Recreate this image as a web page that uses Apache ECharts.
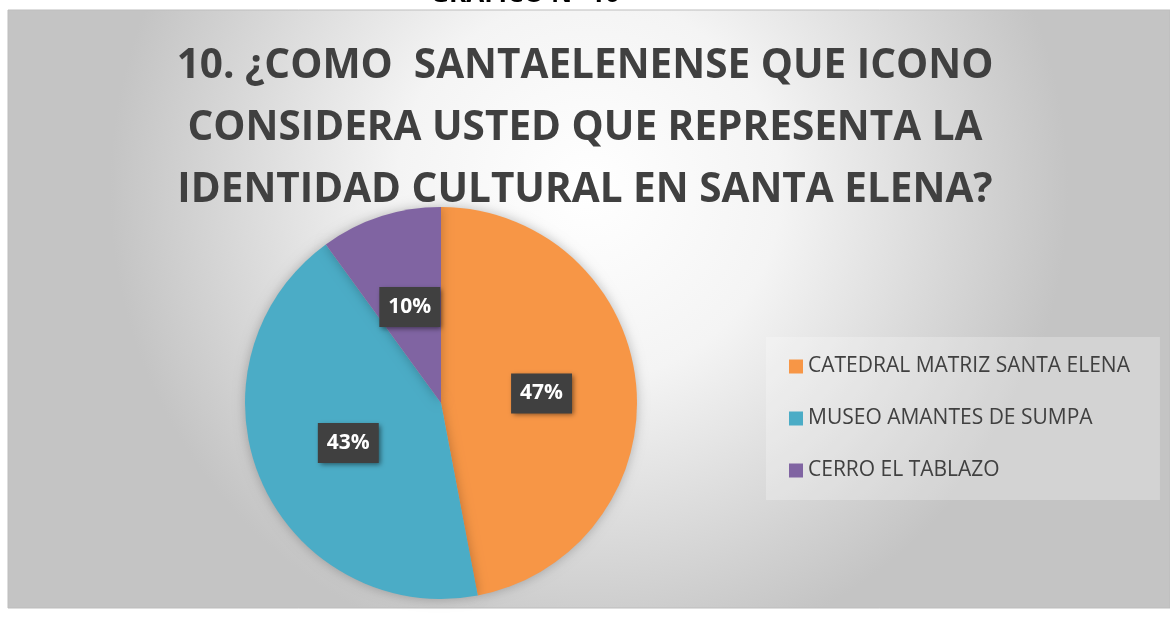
<!DOCTYPE html>
<html>
<head>
<meta charset="utf-8">
<script src="https://cdn.jsdelivr.net/npm/echarts@6/dist/echarts.min.js"></script>
<style>
html,body{margin:0;padding:0;background:#fff;}
#chart{width:1170px;height:620px;}
</style>
</head>
<body>
<div id="chart"></div>
<script>
const categories = ['CATEDRAL MATRIZ SANTA ELENA', 'MUSEO AMANTES DE SUMPA', 'CERRO EL TABLAZO'];
const values = [47, 43, 10];
const colors = ['#F79646', '#4BACC6', '#8064A2'];
const titleText = '10. ¿COMO  SANTAELENENSE QUE ICONO\nCONSIDERA USTED QUE REPRESENTA LA\nIDENTIDAD CULTURAL EN SANTA ELENA?';
const headerText = 'GRÁFICO N° 10';

const chart = echarts.init(document.getElementById('chart'));
const FONT = "'Open Sans', sans-serif";
chart.setOption({
  animation: false,
  backgroundColor: '#ffffff',
  graphic: [
    {
      type: 'rect', z: -10, silent: true,
      shape: {x: 8, y: 10, width: 1162, height: 598},
      style: {
        fill: {
          type: 'radial', x: 0.5, y: 0.3, r: 0.8,
          colorStops: [
            {offset: 0, color: '#ffffff'},
            {offset: 0.4, color: '#f4f4f4'},
            {offset: 1, color: '#c4c4c4'}
          ]
        },
        stroke: '#bdbdbd', lineWidth: 1
      }
    },
    {
      type: 'text', z: 100, zlevel: 1, silent: true,
      x: 525, y: 8,
      style: {
        text: headerText, fill: '#000', font: "bold 26px " + FONT,
        textAlign: 'center', textVerticalAlign: 'bottom'
      }
    },
    {
      type: 'rect', z: 101, zlevel: 1, silent: true,
      shape: {x: 8, y: 10, width: 1162, height: 30},
      style: {fill: 'rgba(0,0,0,0)'}
    }
  ],
  title: {
    text: titleText,
    left: 'center',
    top: 30,
    textStyle: {
      fontFamily: FONT, fontWeight: 'bold', fontSize: 40.5,
      color: '#404040', lineHeight: 62
    }
  },
  legend: {
    orient: 'vertical',
    left: 766,
    top: 337,
    padding: [16, 30, 16, 23],
    backgroundColor: 'rgba(255,255,255,0.25)',
    itemWidth: 14,
    itemHeight: 14,
    itemGap: 25,
    icon: 'rect',
    data: categories,
    textStyle: {fontFamily: FONT, fontSize: 21, color: '#404040', lineHeight: 27}
  },
  series: [{
    type: 'pie',
    center: [441, 403],
    radius: 196,
    startAngle: 90,
    clockwise: true,
    avoidLabelOverlap: false,
    data: categories.map((c, i) => ({name: c, value: values[i], itemStyle: {color: colors[i]}})),
    label: {
      show: true,
      position: 'inside',
      formatter: '{d}%',
      color: '#ffffff',
      fontFamily: FONT,
      fontWeight: 'bold',
      fontSize: 21,
      backgroundColor: '#404040',
      padding: [10, 9, 9, 9],
      shadowColor: 'rgba(0,0,0,0.5)',
      shadowBlur: 5,
      shadowOffsetX: 2,
      shadowOffsetY: 2
    },
    labelLine: {show: false},
    itemStyle: {
      borderWidth: 0,
      shadowColor: 'rgba(0,0,0,0.25)',
      shadowBlur: 12
    }
  }]
});
</script>
</body>
</html>
